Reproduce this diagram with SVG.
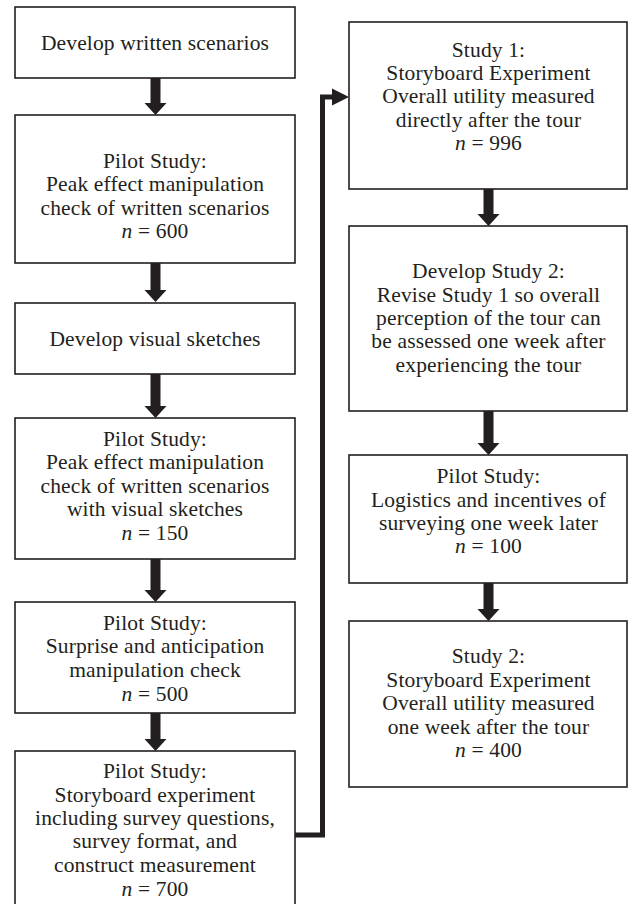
<svg xmlns="http://www.w3.org/2000/svg" width="630" height="904" viewBox="0 0 630 904">
<style>
.box{fill:#fff;stroke:#231f20;stroke-width:1.6}
.t{font-family:"Liberation Serif","Times New Roman",serif;font-size:21.5px;letter-spacing:0.15px;fill:#231f20;text-anchor:middle}
.arr{fill:#231f20}
.conn{fill:none;stroke:#231f20;stroke-width:5;stroke-linejoin:miter}
</style>
<rect width="630" height="904" fill="#fff"/>
<g id="connectors">
<path class="arr" d="M150.5,78 H160.5 V103 H166.5 L155.5,115 L144.5,103 H150.5 Z"/>
<path class="arr" d="M150.5,263 H160.5 V290 H166.5 L155.5,302 L144.5,290 H150.5 Z"/>
<path class="arr" d="M150.5,374 H160.5 V406 H166.5 L155.5,418 L144.5,406 H150.5 Z"/>
<path class="arr" d="M150.5,559 H160.5 V590 H166.5 L155.5,602 L144.5,590 H150.5 Z"/>
<path class="arr" d="M150.5,713 H160.5 V739 H166.5 L155.5,751 L144.5,739 H150.5 Z"/>
<path class="arr" d="M483.5,189 H493.5 V214 H499.5 L488.5,226 L477.5,214 H483.5 Z"/>
<path class="arr" d="M483.5,411 H493.5 V443 H499.5 L488.5,455 L477.5,443 H483.5 Z"/>
<path class="arr" d="M483.5,583 H493.5 V609 H499.5 L488.5,621 L477.5,609 H483.5 Z"/>
<polyline class="conn" points="295,835 322.5,835 322.5,97 334,97"/>
<path class="arr" d="M332,88.5 L349,97 L332,105.5 Z"/>
</g>
<g id="n1">
<rect class="box" x="15" y="7" width="280" height="71"/>
<text class="t" x="155" y="50">Develop written scenarios</text>
</g>
<g id="n2">
<rect class="box" x="15" y="115" width="280" height="148"/>
<text class="t" x="155" y="168">Pilot Study:</text>
<text class="t" x="155" y="191.3">Peak effect manipulation</text>
<text class="t" x="155" y="214.7">check of written scenarios</text>
<text class="t" x="155" y="238"><tspan font-style="italic">n</tspan> = 600</text>
</g>
<g id="n3">
<rect class="box" x="15" y="303" width="280" height="71"/>
<text class="t" x="155" y="346">Develop visual sketches</text>
</g>
<g id="n4">
<rect class="box" x="15" y="418" width="280" height="141"/>
<text class="t" x="155" y="446">Pilot Study:</text>
<text class="t" x="155" y="469.3">Peak effect manipulation</text>
<text class="t" x="155" y="492.7">check of written scenarios</text>
<text class="t" x="155" y="516">with visual sketches</text>
<text class="t" x="155" y="540"><tspan font-style="italic">n</tspan> = 150</text>
</g>
<g id="n5">
<rect class="box" x="15" y="602" width="280" height="111"/>
<text class="t" x="155" y="630">Pilot Study:</text>
<text class="t" x="155" y="653.3">Surprise and anticipation</text>
<text class="t" x="155" y="676.7">manipulation check</text>
<text class="t" x="155" y="701"><tspan font-style="italic">n</tspan> = 500</text>
</g>
<g id="n6">
<rect class="box" x="15" y="751" width="280" height="170"/>
<text class="t" x="155" y="778.3">Pilot Study:</text>
<text class="t" x="155" y="801.7">Storyboard experiment</text>
<text class="t" x="155" y="825">including survey questions,</text>
<text class="t" x="155" y="848.3">survey format, and</text>
<text class="t" x="155" y="871.7">construct measurement</text>
<text class="t" x="155" y="896"><tspan font-style="italic">n</tspan> = 700</text>
</g>
<g id="r1">
<rect class="box" x="349" y="22" width="278" height="167"/>
<text class="t" x="488.5" y="56.7">Study 1:</text>
<text class="t" x="488.5" y="80">Storyboard Experiment</text>
<text class="t" x="488.5" y="103.3">Overall utility measured</text>
<text class="t" x="488.5" y="126.7">directly after the tour</text>
<text class="t" x="488.5" y="150"><tspan font-style="italic">n</tspan> = 996</text>
</g>
<g id="r2">
<rect class="box" x="349" y="226" width="278" height="185"/>
<text class="t" x="488.5" y="278.3">Develop Study 2:</text>
<text class="t" x="488.5" y="301.6">Revise Study 1 so overall</text>
<text class="t" x="488.5" y="325">perception of the tour can</text>
<text class="t" x="488.5" y="348.3">be assessed one week after</text>
<text class="t" x="488.5" y="371.6">experiencing the tour</text>
</g>
<g id="r3">
<rect class="box" x="349" y="455" width="278" height="128"/>
<text class="t" x="488.5" y="483.3">Pilot Study:</text>
<text class="t" x="488.5" y="506.7">Logistics and incentives of</text>
<text class="t" x="488.5" y="530">surveying one week later</text>
<text class="t" x="488.5" y="553.3"><tspan font-style="italic">n</tspan> = 100</text>
</g>
<g id="r4">
<rect class="box" x="349" y="621" width="278" height="166"/>
<text class="t" x="488.5" y="663">Study 2:</text>
<text class="t" x="488.5" y="686.5">Storyboard Experiment</text>
<text class="t" x="488.5" y="710">Overall utility measured</text>
<text class="t" x="488.5" y="733.5">one week after the tour</text>
<text class="t" x="488.5" y="757"><tspan font-style="italic">n</tspan> = 400</text>
</g>
</svg>
